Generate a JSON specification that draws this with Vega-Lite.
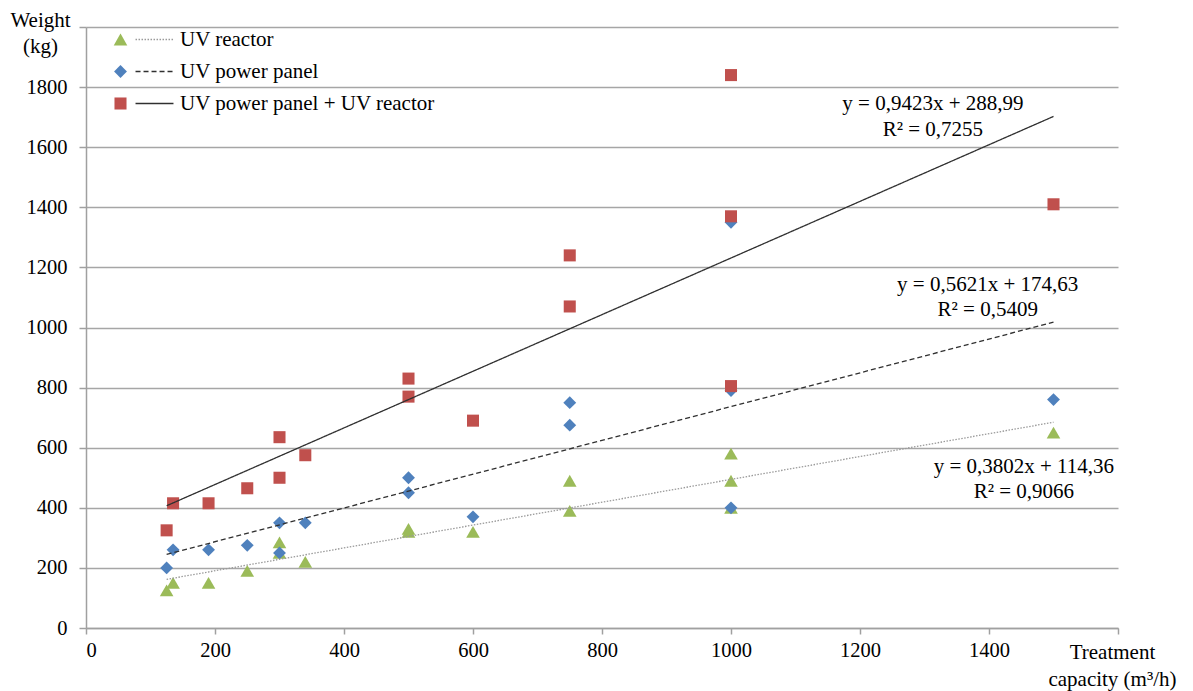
{
  "$schema": "https://vega.github.io/schema/vega-lite/v6.json",
  "width": 1032,
  "height": 601,
  "autosize": {"type": "none"},
  "padding": {"left": 86, "top": 27, "right": 75, "bottom": 63},
  "background": "white",
  "config": {
    "view": {"stroke": null},
    "font": "Liberation Serif",
    "axis": {
      "labelFont": "Liberation Serif",
      "labelFontSize": 20.5,
      "labelColor": "#000000",
      "titleFont": "Liberation Serif",
      "titleFontSize": 21,
      "titleFontWeight": "normal",
      "titleColor": "#000000",
      "domainColor": "#A0A0A0",
      "domainWidth": 1.5,
      "tickColor": "#A0A0A0",
      "tickWidth": 1.5,
      "gridColor": "#A6A6A6",
      "gridWidth": 1.4
    },
    "legend": {
      "labelFont": "Liberation Serif",
      "labelFontSize": 21,
      "labelColor": "#000000",
      "labelLimit": 500,
      "padding": 0
    }
  },
  "datasets": {
    "points": [
      {"series": "UV reactor", "x": 125, "y": 125},
      {"series": "UV reactor", "x": 135, "y": 150},
      {"series": "UV reactor", "x": 190, "y": 150},
      {"series": "UV reactor", "x": 250, "y": 190},
      {"series": "UV reactor", "x": 300, "y": 285},
      {"series": "UV reactor", "x": 300, "y": 250},
      {"series": "UV reactor", "x": 340, "y": 220},
      {"series": "UV reactor", "x": 500, "y": 330},
      {"series": "UV reactor", "x": 500, "y": 320},
      {"series": "UV reactor", "x": 600, "y": 320},
      {"series": "UV reactor", "x": 750, "y": 490},
      {"series": "UV reactor", "x": 750, "y": 390},
      {"series": "UV reactor", "x": 1000, "y": 580},
      {"series": "UV reactor", "x": 1000, "y": 490},
      {"series": "UV reactor", "x": 1000, "y": 400},
      {"series": "UV reactor", "x": 1500, "y": 650},
      {"series": "UV power panel", "x": 125, "y": 200},
      {"series": "UV power panel", "x": 135, "y": 260},
      {"series": "UV power panel", "x": 190, "y": 260},
      {"series": "UV power panel", "x": 250, "y": 275},
      {"series": "UV power panel", "x": 300, "y": 350},
      {"series": "UV power panel", "x": 300, "y": 250},
      {"series": "UV power panel", "x": 340, "y": 350},
      {"series": "UV power panel", "x": 500, "y": 500},
      {"series": "UV power panel", "x": 500, "y": 450},
      {"series": "UV power panel", "x": 600, "y": 370},
      {"series": "UV power panel", "x": 750, "y": 750},
      {"series": "UV power panel", "x": 750, "y": 675},
      {"series": "UV power panel", "x": 1000, "y": 1350},
      {"series": "UV power panel", "x": 1000, "y": 790},
      {"series": "UV power panel", "x": 1000, "y": 400},
      {"series": "UV power panel", "x": 1500, "y": 760},
      {"series": "UV power panel + UV reactor", "x": 125, "y": 325},
      {"series": "UV power panel + UV reactor", "x": 135, "y": 415},
      {"series": "UV power panel + UV reactor", "x": 190, "y": 415},
      {"series": "UV power panel + UV reactor", "x": 250, "y": 465},
      {"series": "UV power panel + UV reactor", "x": 300, "y": 635},
      {"series": "UV power panel + UV reactor", "x": 300, "y": 500},
      {"series": "UV power panel + UV reactor", "x": 340, "y": 575},
      {"series": "UV power panel + UV reactor", "x": 500, "y": 830},
      {"series": "UV power panel + UV reactor", "x": 500, "y": 770},
      {"series": "UV power panel + UV reactor", "x": 600, "y": 690},
      {"series": "UV power panel + UV reactor", "x": 750, "y": 1240},
      {"series": "UV power panel + UV reactor", "x": 750, "y": 1070},
      {"series": "UV power panel + UV reactor", "x": 1000, "y": 1840},
      {"series": "UV power panel + UV reactor", "x": 1000, "y": 1370},
      {"series": "UV power panel + UV reactor", "x": 1000, "y": 805},
      {"series": "UV power panel + UV reactor", "x": 1500, "y": 1410}
    ],
    "trend": [
      {"trend": "UV reactor", "x": 125, "y": 161.9},
      {"trend": "UV reactor", "x": 1500, "y": 684.7},
      {"trend": "UV power panel", "x": 125, "y": 244.9},
      {"trend": "UV power panel", "x": 1500, "y": 1017.8},
      {"trend": "UV power panel + UV reactor", "x": 125, "y": 406.8},
      {"trend": "UV power panel + UV reactor", "x": 1500, "y": 1702.4}
    ],
    "notes": [
      {"label": "y = 0,9423x + 288,99", "x": 1313, "y": 1743},
      {"label": "R² = 0,7255", "x": 1313, "y": 1657},
      {"label": "y = 0,5621x + 174,63", "x": 1398, "y": 1140},
      {"label": "R² = 0,5409", "x": 1398, "y": 1057},
      {"label": "y = 0,3802x + 114,36", "x": 1454, "y": 537},
      {"label": "R² = 0,9066", "x": 1454, "y": 453}
    ]
  },
  "layer": [
    {
      "data": {"name": "points"},
      "mark": {"type": "point", "filled": true, "opacity": 1, "strokeWidth": 0},
      "encoding": {
        "x": {
          "field": "x", "type": "quantitative",
          "scale": {"domain": [0, 1600], "nice": false, "zero": false},
          "axis": {
            "values": [0, 200, 400, 600, 800, 1000, 1200, 1400, 1600],
            "labelExpr": "datum.value == 1600 ? '' : datum.label",
            "format": "d",
            "grid": false,
            "tickSize": 6,
            "labelPadding": 6,
            "title": ["Treatment", "capacity (m³/h)"],
            "titleX": 1026,
            "titleY": 13,
            "titleAlign": "center",
            "titleBaseline": "top",
            "titleAngle": 0,
            "titleLineHeight": 27
          }
        },
        "y": {
          "field": "y", "type": "quantitative",
          "scale": {"domain": [0, 2000], "nice": false},
          "axis": {
            "values": [0, 200, 400, 600, 800, 1000, 1200, 1400, 1600, 1800, 2000],
            "labelExpr": "datum.value == 2000 ? '' : datum.label",
            "format": "d",
            "grid": true,
            "tickSize": 7,
            "labelPadding": 12,
            "title": ["Weight", "(kg)"],
            "titleAngle": 0,
            "titleX": -46,
            "titleY": -18,
            "titleAlign": "center",
            "titleBaseline": "top",
            "titleLineHeight": 26
          }
        },
        "color": {
          "field": "series", "type": "nominal",
          "scale": {
            "domain": ["UV reactor", "UV power panel", "UV power panel + UV reactor"],
            "range": ["#9BBB59", "#4F81BD", "#C0504D"]
          },
          "legend": {
            "title": null,
            "orient": "none",
            "legendX": 24,
            "legendY": 2,
            "symbolStrokeWidth": 0,
            "labelOffset": 49,
            "rowPadding": 10
          }
        },
        "shape": {
          "field": "series", "type": "nominal",
          "scale": {
            "domain": ["UV reactor", "UV power panel", "UV power panel + UV reactor"],
            "range": ["triangle-up", "diamond", "square"]
          }
        },
        "size": {
          "field": "series", "type": "nominal",
          "scale": {
            "domain": ["UV reactor", "UV power panel", "UV power panel + UV reactor"],
            "range": [185, 145, 135]
          }
        }
      }
    },
    {
      "data": {"name": "trend"},
      "mark": {"type": "line", "strokeWidth": 1.3},
      "encoding": {
        "x": {"field": "x", "type": "quantitative"},
        "y": {"field": "y", "type": "quantitative"},
        "color": {
          "field": "trend", "type": "nominal",
          "scale": {
            "domain": ["UV reactor", "UV power panel", "UV power panel + UV reactor"],
            "range": ["#9A9A9A", "#303030", "#303030"]
          },
          "legend": {
            "title": null,
            "orient": "none",
            "legendX": 58,
            "legendY": 2,
            "symbolType": "M-3,0H3",
            "symbolSize": 160,
            "symbolStrokeWidth": 1.3,
            "labelExpr": "''",
            "labelFontSize": 21,
            "rowPadding": 10
          }
        },
        "strokeDash": {
          "field": "trend", "type": "nominal",
          "scale": {
            "domain": ["UV reactor", "UV power panel", "UV power panel + UV reactor"],
            "range": [[1.5, 1.5], [5, 3], [1, 0]]
          }
        }
      }
    },
    {
      "data": {"name": "notes"},
      "mark": {"type": "text", "align": "center", "baseline": "middle", "fontSize": 21, "font": "Liberation Serif", "color": "#000000"},
      "encoding": {
        "x": {"field": "x", "type": "quantitative"},
        "y": {"field": "y", "type": "quantitative"},
        "text": {"field": "label"}
      }
    }
  ],
  "resolve": {"scale": {"color": "independent", "shape": "independent", "size": "independent", "strokeDash": "independent"}}
}
